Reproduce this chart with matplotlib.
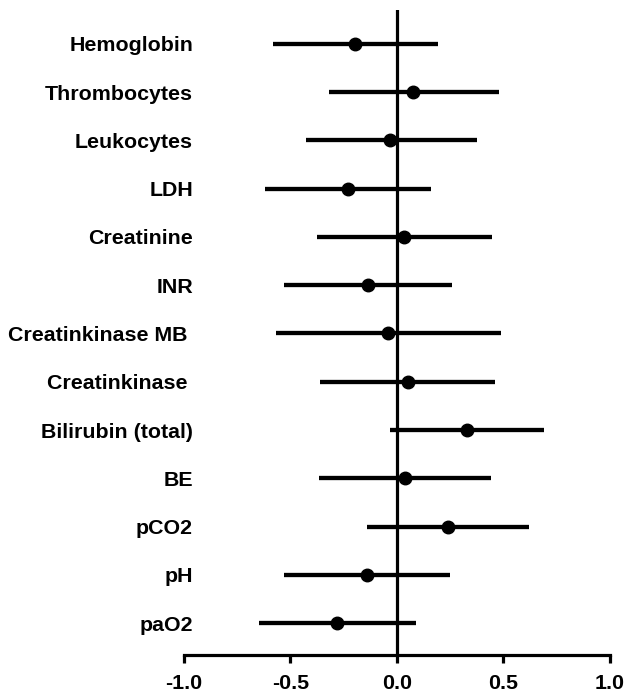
"""Forest plot of lab parameters"""

import matplotlib
matplotlib.use('Agg')
import matplotlib.pyplot as plt

# parameters listed bottom to top
labels = ['paO2', 'pH', 'pCO2', 'BE', 'Bilirubin (total)', 'Creatinkinase ',
          'Creatinkinase MB ', 'INR', 'Creatinine', 'LDH', 'Leukocytes',
          'Thrombocytes', 'Hemoglobin']
estimate = [-0.28, -0.14, 0.24, 0.04, 0.33, 0.05,
            -0.04, -0.135, 0.035, -0.23, -0.03, 0.075, -0.195]
lower = [-0.65, -0.53, -0.14, -0.365, -0.03, -0.36,
         -0.57, -0.53, -0.375, -0.62, -0.425, -0.32, -0.58]
upper = [0.09, 0.25, 0.62, 0.44, 0.69, 0.46,
         0.49, 0.26, 0.445, 0.16, 0.375, 0.48, 0.195]
xticks = [-1.0, -0.5, 0.0, 0.5, 1.0]

plt.rcParams['font.family'] = ['Liberation Sans', 'DejaVu Sans']
plt.rcParams['font.weight'] = 'bold'

fig = plt.figure(figsize=(6.26, 6.98), dpi=100)
ax = fig.add_axes([0.294, 0.0616, 0.68, 0.924])

ypos = list(range(len(labels)))

# confidence intervals
ax.hlines(ypos, lower, upper, color='black', linewidth=3.1)
ax.plot(estimate, ypos, 'o', color='black', markersize=9)

# reference line at zero
ax.axvline(0, color='black', linewidth=2.3)

ax.set_xlim(-1.0, 1.0)
ax.set_ylim(-0.66, 12.7)
ax.set_xticks(xticks)
ax.set_xticklabels(['%.1f' % t for t in xticks], fontsize=15.4, fontweight='bold')
ax.set_yticks(ypos)
ax.set_yticklabels(labels, fontsize=15.4, fontweight='bold')

for side in ['left', 'right', 'top']:
    ax.spines[side].set_visible(False)
ax.spines['bottom'].set_linewidth(2.3)
ax.tick_params(axis='x', length=6, width=2.3, pad=8)
ax.tick_params(axis='y', length=0, pad=-6.5)

fig.savefig('out.png', dpi=100)
